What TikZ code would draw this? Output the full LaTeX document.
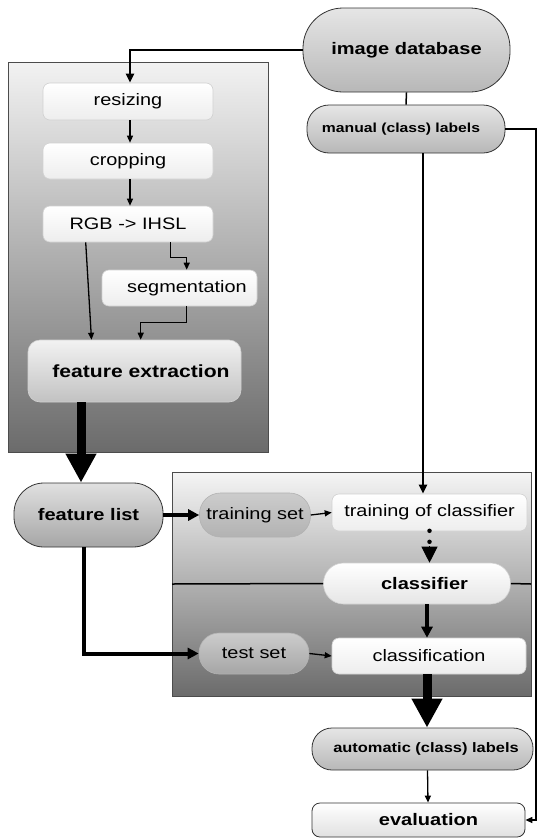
\documentclass[tikz,border=0pt]{standalone}
\usepackage{fontspec}
\setmainfont[FakeStretch=1.2]{Liberation Sans}
\usetikzlibrary{arrows.meta,calc}
\begin{document}
\begin{tikzpicture}[x=1pt,y=-1pt,
  panel/.style={draw=black!70,line width=0.8pt,top color=black!5,bottom color=black!58},
  stage/.style={draw=black!18,line width=0.6pt,rounded corners=7pt,top color=white,bottom color=black!7,
    inner sep=0pt,font=\fontsize{16.6}{18}\selectfont},
  term/.style={draw=black!80,line width=0.8pt,top color=black!10,bottom color=black!28,inner sep=0pt,
    font=\fontsize{16.7}{18}\selectfont\bfseries},
  grayset/.style={draw=black!30,line width=0.6pt,top color=black!20,bottom color=black!30,inner sep=0pt,
    font=\fontsize{16.6}{18}\selectfont},
  thin/.style={line width=1.3pt,-{Triangle[length=7pt,width=6pt]}},
  mid/.style={line width=2.8pt,-{Triangle[length=9pt,width=8pt]}},
  fat/.style={line width=4pt,-{Triangle[length=11pt,width=11pt]}},
  huge/.style={line width=9pt,-{Triangle[length=29pt,width=29pt]}}]
\useasboundingbox (0,0) rectangle (538,838);
% panels
\path[panel] (8,62) rectangle (268,452);
\path[panel,top color=black!4,bottom color=black!58] (172,472) rectangle (531,696);
\coordinate (pl) at (172,584);
\coordinate (pr) at (531,584);
\coordinate (rc) at (536,0);
% top
\node[term,minimum width=207pt,minimum height=84pt,rounded corners=40pt] (db) at (406.5,50) {image database};
\node[term,minimum width=198pt,minimum height=48pt,rounded corners=22pt,font=\fontsize{13.1}{15}\selectfont\bfseries] (man) at (406,129) {manual (class) labels\hspace*{10pt}};
% left stages
\node[stage,minimum width=170pt,minimum height=37pt] (rs) at (128,101.5) {resizing};
\node[stage,minimum width=170pt,minimum height=36pt] (cr) at (128,161) {cropping};
\node[stage,minimum width=170pt,minimum height=36pt] (rgb) at (128,224) {RGB -> IHSL};
\node[stage,minimum width=155pt,minimum height=36pt] (seg) at (179.5,288) {\hspace*{15pt}segmentation};
\node[stage,minimum width=213pt,minimum height=62pt,rounded corners=12pt,top color=black!5,bottom color=black!24,
  font=\fontsize{17.6}{19}\selectfont\bfseries] (fe) at (134.5,371) {\hspace*{13pt}feature extraction};
% feature list and right panel
\node[term,minimum width=149pt,minimum height=64pt,rounded corners=30pt,top color=black!12,bottom color=black!35] (fl) at (88.5,515) {feature list};
\node[grayset,minimum width=111pt,minimum height=44pt,rounded corners=21pt] (trs) at (255,515) {training set};
\node[stage,minimum width=195pt,minimum height=37pt] (tr) at (429.5,512.5) {training of classifier};
\node[stage,minimum width=187pt,minimum height=41pt,rounded corners=20pt,bottom color=black!10,
  font=\fontsize{16.7}{18}\selectfont\bfseries] (cl) at (417,583.5) {\hspace*{15pt}classifier};
\node[grayset,minimum width=110pt,minimum height=41pt,rounded corners=20pt,bottom color=black!35] (ts) at (254,653.5) {test set};
\node[stage,minimum width=194pt,minimum height=36pt] (cf) at (429,656) {classification};
% bottom
\node[term,minimum width=221pt,minimum height=42pt,rounded corners=20pt,font=\fontsize{13.7}{15}\selectfont\bfseries] (au) at (422.5,749) {\hspace*{7pt}automatic (class) labels};
\node[term,minimum width=213pt,minimum height=34pt,rounded corners=8pt,top color=white,bottom color=black!12] (ev) at (418.5,820) {\hspace*{20pt}evaluation};
% divider
\draw[line width=1.5pt] (pl) -- (cl.west);
\draw[line width=1.5pt] (cl.east) -- (pr);
% connectors
\draw[mid] (db.west) -| ([xshift=2pt]rs.north);
\draw[line width=1.5pt] (db.south) -- (man.north);
\draw[thin] ([xshift=2pt]rs.south) -- ([xshift=2pt]cr.north);
\draw[thin] ([xshift=2pt]cr.south) -- ([xshift=2pt]rgb.north);
\draw[thin] ([xshift=43pt]rgb.south west) -- ([xshift=-43pt]fe.north);
\draw[thin] ([xshift=128pt]rgb.south west) -- ++(0,15) -| ([xshift=85pt]seg.north west);
\draw[thin] ([xshift=85pt]seg.south west) -- ++(0,16) -| ([xshift=113pt]fe.north west);
\draw[huge] ([xshift=-53.5pt]fe.south) -- ([xshift=-7.5pt]fl.north);
\draw[mid] ([xshift=17pt]man.south) -- ([xshift=-6.5pt]tr.north);
\draw[line width=1.3pt,-{Triangle[length=7pt,width=6pt]}] (man.east) -| (rc |- ev.east) -- (ev.east);
\draw[fat] (fl.east) -- (trs.west);
\draw[thin] (trs.east) -- (tr.west);
\draw[line width=4.5pt,line cap=round,dash pattern=on 0pt off 11pt] ([yshift=0.5pt]tr.south) -- ([yshift=-12pt]tr.south);
\draw[line width=1pt,-{Triangle[length=16pt,width=16pt]}] ([yshift=-15pt]tr.south) -- ([xshift=12.5pt]cl.north);
\draw[fat] ([xshift=10pt]cl.south) -- ([xshift=-2pt]cf.north);
\draw[fat] ([xshift=-4.5pt]fl.south) |- (ts.west);
\draw[thin] (ts.east) -- (cf.west);
\draw[huge] ([xshift=-2pt]cf.south) -- ([xshift=4.5pt]au.north);
\draw[thin] ([xshift=5pt]au.south) -- ([xshift=9.5pt]ev.north);
\end{tikzpicture}
\end{document}
